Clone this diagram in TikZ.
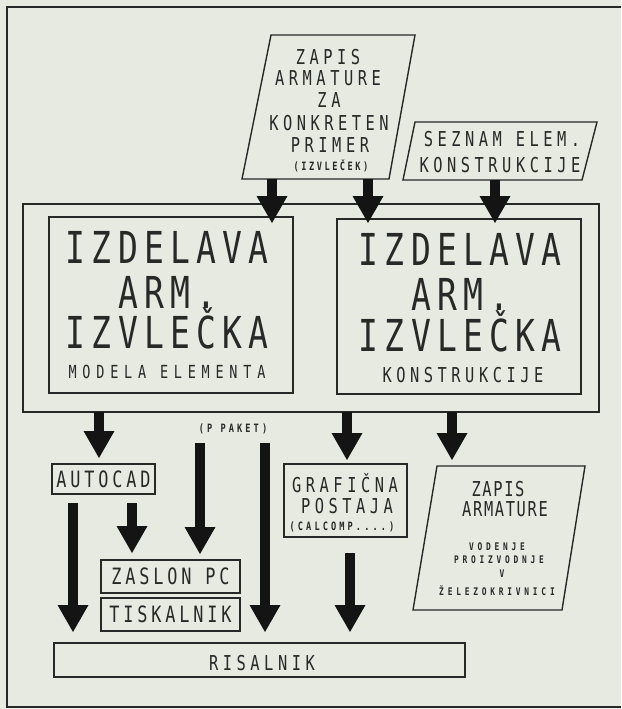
\documentclass[tikz,border=0pt]{standalone}
\usepackage{fontspec}
\newfontfamily\plotf{DejaVu Sans Mono}[FakeStretch=0.75]
\usetikzlibrary{arrows.meta}
\definecolor{bgc}{RGB}{231,234,225}
\definecolor{inkc}{RGB}{40,40,40}
\definecolor{arrc}{RGB}{20,20,20}
\tikzset{
  box/.style={draw=inkc, line width=1.4pt, rectangle, inner sep=0pt, text=inkc},
  pline/.style={draw=inkc, line width=1.4pt, line join=miter},
  bigarrow/.style={draw=arrc, line width=10pt, -{Triangle[width=31pt,length=27pt,line width=0pt]}},
  lbl/.style={inner sep=0pt, anchor=base, text=inkc},
  fbig/.style={font=\plotf\fontsize{44}{44}\selectfont\addfontfeature{LetterSpace=14}},
  fmed/.style={font=\plotf\fontsize{20.5}{20.5}\selectfont\addfontfeature{LetterSpace=22}},
  fml/.style={font=\plotf\fontsize{22.5}{22.5}\selectfont\addfontfeature{LetterSpace=17}},
  fmod/.style={font=\plotf\fontsize{18}{18}\selectfont\addfontfeature{LetterSpace=32}},
  fbr/.style={font=\plotf\fontsize{20.5}{20.5}\selectfont\addfontfeature{LetterSpace=8}},
  fsm/.style={font=\plotf\bfseries\fontsize{11.5}{11.5}\selectfont\addfontfeature{LetterSpace=27}},
  fsi/.style={font=\plotf\bfseries\fontsize{11.5}{11.5}\selectfont\addfontfeature{LetterSpace=22}},
  fsb/.style={font=\plotf\bfseries\fontsize{10.5}{10.5}\selectfont\addfontfeature{LetterSpace=36}},
}
\begin{document}
\begin{tikzpicture}[x=1pt,y=-1pt]
\fill[bgc] (0,0) rectangle (621,709);
\useasboundingbox (0,0) rectangle (621,709);
% outer frame
\coordinate (ftr) at (621,7);
\coordinate (ftl) at (7,7);
\coordinate (fbl) at (7,707);
\coordinate (fbr) at (621,707);
\draw[pline] (ftr) -- (ftl) -- (fbl) -- (fbr);

% top parallelogram ZAPIS
\coordinate (z1tl) at (271,35);
\coordinate (z1tr) at (415,35);
\coordinate (z1br) at (389,179);
\coordinate (z1bl) at (242,179);
\draw[pline] (z1tl) -- (z1tr) -- (z1br) -- (z1bl) -- cycle;
\node[lbl,fmed] (z1l1) at (328,65) {ZAPIS};
\node[lbl,fmed] (z1l2) at (328,85) {ARMATURE};
\node[lbl,fmed] (z1l3) at (329,107) {ZA};
\node[lbl,fmed] (z1l4) at (329,130) {KONKRETEN};
\node[lbl,fmed] (z1l5) at (330,152) {PRIMER};
\node[lbl,fsi] (z1l6) at (331,170) {(IZVLEČEK)};

% SEZNAM parallelogram
\coordinate (s1tl) at (415,122);
\coordinate (s1tr) at (597,122);
\coordinate (s1br) at (582,180);
\coordinate (s1bl) at (403,180);
\draw[pline] (s1tl) -- (s1tr) -- (s1br) -- (s1bl) -- cycle;
\node[lbl,fmed] (s1l1) at (502,146) {SEZNAM ELEM.};
\node[lbl,fmed] (s1l2) at (500,172) {KONSTRUKCIJE};

% big box and inner boxes
\node[box, minimum width=576pt, minimum height=208pt] (bigbox) at (311,308) {};
\node[box, minimum width=244pt, minimum height=176pt] (inL) at (171,305) {};
\node[box, minimum width=244pt, minimum height=175pt] (inR) at (459,306.5) {};
\node[lbl,fbig] (L1) at (167,263) {IZDELAVA};
\node[lbl,fbig] (L2) at (167,308) {ARM.};
\node[lbl,fbig] (L3) at (167,348) {IZVLEČKA};
\node[lbl,fmod] (L4) at (167,378) {MODELA ELEMENTA};
\node[lbl,fbig] (R1) at (460,265) {IZDELAVA};
\node[lbl,fbig] (R2) at (460,310) {ARM.};
\node[lbl,fbig] (R3) at (460,351) {IZVLEČKA};
\node[lbl,fmed] (R4) at (463,382) {KONSTRUKCIJE};

% lower boxes
\node[box, fml, minimum width=103pt, minimum height=30pt] (autocad) at (103.5,479) {AUTOCAD};
\node[box, fml, minimum width=139pt, minimum height=33pt] (zaslon) at (170.5,576.5) {ZASLON PC};
\node[box, fml, minimum width=139pt, minimum height=33pt] (tisk) at (170.5,614.5) {TISKALNIK};
\node[box, minimum width=411pt, minimum height=34pt] (risal) at (259.5,660) {};
\node[lbl,fmed] (risl) at (262,670) {RISALNIK};
\node[box, minimum width=123pt, minimum height=73pt] (graf) at (345.5,500.5) {};
\node[lbl,fmed] (g1) at (345,492) {GRAFIČNA};
\node[lbl,fmed] (g2) at (347,513) {POSTAJA};
\node[lbl,fsm] (g3) at (342,530) {(CALCOMP....)};
\node[lbl,fsm] (ppak) at (233,432) {(P PAKET)};

% bottom-right parallelogram
\coordinate (z2tl) at (437,466);
\coordinate (z2tr) at (585,466);
\coordinate (z2br) at (562,610);
\coordinate (z2bl) at (413,610);
\draw[pline] (z2tl) -- (z2tr) -- (z2br) -- (z2bl) -- cycle;
\node[lbl,fbr] (z2l1) at (498,496) {ZAPIS};
\node[lbl,fbr] (z2l2) at (505,516) {ARMATURE};
\node[lbl,fsb] (z2l3) at (497,550) {VODENJE};
\node[lbl,fsb] (z2l4) at (499,563) {PROIZVODNJE};
\node[lbl,fsb] (z2l5) at (502,577) {V};
\node[lbl,fsb] (z2l6) at (497,595) {ŽELEZOKRIVNICI};

% arrow end points
\coordinate (a1s) at (272,179); \coordinate (a1e) at (272,223);
\coordinate (a2s) at (368,179); \coordinate (a2e) at (368,223);
\coordinate (a3s) at (495,180); \coordinate (a3e) at (495,223);
\coordinate (a4s) at (99,412);  \coordinate (a4e) at (99,458);
\coordinate (a5s) at (73,503);  \coordinate (a5e) at (73,632);
\coordinate (a6s) at (132,503); \coordinate (a6e) at (132,553);
\coordinate (a7s) at (200,443); \coordinate (a7e) at (200,554);
\coordinate (a8s) at (265,443); \coordinate (a8e) at (265,632);
\coordinate (a9s) at (347,412); \coordinate (a9e) at (347,460);
\coordinate (a10s) at (350,553); \coordinate (a10e) at (350,632);
\coordinate (a11s) at (452,412); \coordinate (a11e) at (452,460);
\foreach \i in {1,...,11} {\draw[bigarrow] (a\i s) -- (a\i e);}
\end{tikzpicture}
\end{document}
